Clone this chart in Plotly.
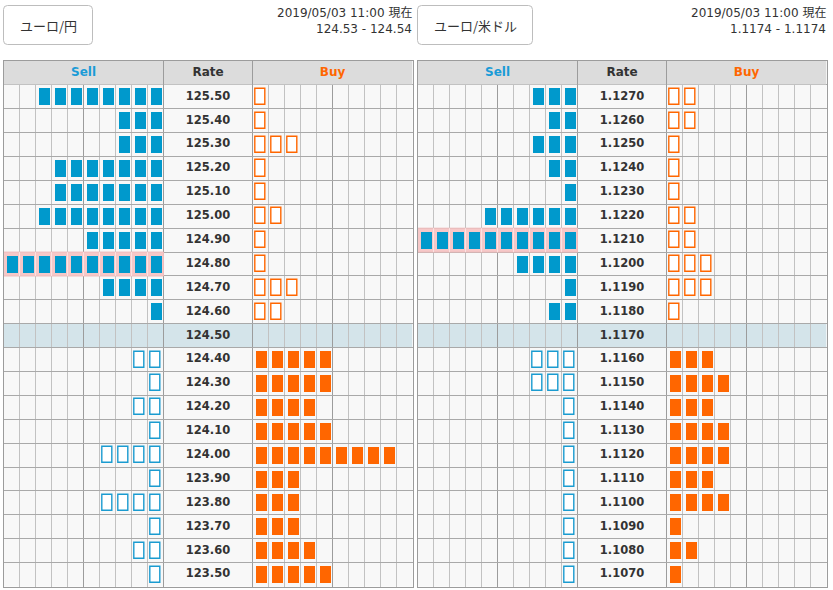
import plotly.graph_objects as go

# ---------------- data ----------------
jpy_title = "ユーロ/円"
jpy_time = "2019/05/03 11:00 現在"
jpy_quote = "124.53 - 124.54"
jpy_rates = ["125.50", "125.40", "125.30", "125.20", "125.10", "125.00", "124.90",
             "124.80", "124.70", "124.60", "124.50", "124.40", "124.30", "124.20",
             "124.10", "124.00", "123.90", "123.80", "123.70", "123.60", "123.50"]
jpy_sell = [8, 3, 3, 7, 7, 8, 5, 10, 4, 1, 0, 2, 1, 2, 1, 4, 1, 4, 1, 2, 1]
jpy_buy = [1, 1, 3, 1, 1, 2, 1, 1, 3, 2, 0, 5, 5, 4, 5, 9, 3, 3, 3, 4, 5]
jpy_current = "124.50"
jpy_highlight = "124.80"

usd_title = "ユーロ/米ドル"
usd_time = "2019/05/03 11:00 現在"
usd_quote = "1.1174 - 1.1174"
usd_rates = ["1.1270", "1.1260", "1.1250", "1.1240", "1.1230", "1.1220", "1.1210",
             "1.1200", "1.1190", "1.1180", "1.1170", "1.1160", "1.1150", "1.1140",
             "1.1130", "1.1120", "1.1110", "1.1100", "1.1090", "1.1080", "1.1070"]
usd_sell = [3, 2, 3, 2, 1, 6, 10, 4, 1, 2, 0, 3, 3, 1, 1, 1, 1, 1, 1, 1, 1]
usd_buy = [2, 2, 1, 1, 1, 2, 2, 3, 3, 1, 0, 3, 4, 3, 4, 4, 3, 4, 1, 2, 1]
usd_current = "1.1170"
usd_highlight = "1.1210"

headers = ["Sell", "Rate", "Buy"]

# ---------------- style ----------------
W, H = 833, 590
NCELL = 10
RATE_W = 89 / 16
BUY0 = NCELL + RATE_W
TOTAL = BUY0 + NCELL
BOX_W, BOX_H = 11 / 16, 17 / 23.86
HOLLOW_W, HOLLOW_H = 10 / 16, 16 / 23.86

BLUE = "#0099cc"
ORANGE = "#ff6600"
SELL_TXT = "#1a9bd7"
DARK = "#333333"
GRID_DARK = "#9c9c9c"
GRID_LIGHT = "#c2c2c2"
GRID_ROW = "#a9a9a9"
FONT = "DejaVu Sans"
JFONT = "Noto Sans CJK JP"

fig = go.Figure()
shapes = []
annotations = []


def px_x(p):
    return p / W


def px_y(p):
    return 1 - p / H


def add_bars(xs, rows, filled, color, xa, ya):
    if not xs:
        return
    bw, bh = (BOX_W, BOX_H) if filled else (HOLLOW_W, HOLLOW_H)
    fig.add_trace(go.Bar(
        x=xs, y=[bh] * len(xs), base=[r - bh / 2 for r in rows], width=bw,
        marker=dict(color=color if filled else "#ffffff",
                    line=dict(width=0 if filled else 1.4, color=color)),
        xaxis=xa, yaxis=ya, hoverinfo="skip", showlegend=False))


def panel(rates, sell, buy, current, highlight, xa, ya):
    cur = rates.index(current) + 1
    hl = rates.index(highlight) + 1
    xr = "x" if xa == "x" else "x2"
    yr = "y" if ya == "y" else "y2"
    shapes.append(dict(type="rect", xref=xr, yref=yr, x0=0, x1=TOTAL, y0=cur - 0.5, y1=cur + 0.5,
                       fillcolor="#d4e4ea", line=dict(width=0), layer="below"))
    shapes.append(dict(type="rect", xref=xr, yref=yr, x0=0, x1=TOTAL, y0=-0.5, y1=0.48,
                       fillcolor="#dcdcdc", line=dict(width=0), layer="between"))
    for xv in (NCELL, BUY0):
        shapes.append(dict(type="line", xref=xr, yref=yr, x0=xv, x1=xv, y0=-0.5, y1=0.5,
                           line=dict(color=GRID_DARK, width=1), layer="between"))
    shapes.append(dict(type="rect", xref=xr, yref=yr, x0=0, x1=NCELL, y0=hl - 0.5, y1=hl + 0.5,
                       fillcolor="#f6c8c8", line=dict(width=1, color="#efbcbc"), layer="between"))
    for k in range(1, NCELL):
        shapes.append(dict(type="line", xref=xr, yref=yr, x0=k, x1=k, y0=hl - 0.5, y1=hl + 0.5,
                           line=dict(color="#fbe2e2", width=1), layer="between"))

    sf_x, sf_r, sh_x, sh_r, bf_x, bf_r, bh_x, bh_r = ([] for _ in range(8))
    for i, (s, b) in enumerate(zip(sell, buy)):
        row = i + 1
        above = row < cur
        sx = [NCELL - k - 0.5 for k in range(s)]
        bx = [BUY0 + k + 0.5 for k in range(b)]
        if above:
            sf_x += sx; sf_r += [row] * s
            bh_x += bx; bh_r += [row] * b
        else:
            sh_x += sx; sh_r += [row] * s
            bf_x += bx; bf_r += [row] * b
    add_bars(sf_x, sf_r, True, BLUE, xa, ya)
    add_bars(sh_x, sh_r, False, "#1a9bd0", xa, ya)
    add_bars(bf_x, bf_r, True, ORANGE, xa, ya)
    add_bars(bh_x, bh_r, False, ORANGE, xa, ya)

    rc = NCELL + RATE_W / 2
    fig.add_trace(go.Scatter(
        x=[rc] * len(rates), y=list(range(1, len(rates) + 1)), text=rates,
        mode="text", textfont=dict(family=FONT, size=11.5, color=DARK, weight="bold"),
        xaxis=xa, yaxis=ya, hoverinfo="skip", showlegend=False))
    fig.add_trace(go.Scatter(
        x=[NCELL / 2, rc, BUY0 + NCELL / 2], y=[0, 0, 0], text=headers,
        mode="text", textfont=dict(family=FONT, size=12, weight="bold",
                                   color=[SELL_TXT, DARK, ORANGE]),
        xaxis=xa, yaxis=ya, hoverinfo="skip", showlegend=False))


def button(x0, x1, y0, y1, label, tx, tright, time_txt, quote):
    r = 4
    p = (f"M {px_x(x0 + r)} {px_y(y0)} L {px_x(x1 - r)} {px_y(y0)} "
         f"Q {px_x(x1)} {px_y(y0)} {px_x(x1)} {px_y(y0 + r)} "
         f"L {px_x(x1)} {px_y(y1 - r)} Q {px_x(x1)} {px_y(y1)} {px_x(x1 - r)} {px_y(y1)} "
         f"L {px_x(x0 + r)} {px_y(y1)} Q {px_x(x0)} {px_y(y1)} {px_x(x0)} {px_y(y1 - r)} "
         f"L {px_x(x0)} {px_y(y0 + r)} Q {px_x(x0)} {px_y(y0)} {px_x(x0 + r)} {px_y(y0)} Z")
    shapes.append(dict(type="path", xref="paper", yref="paper", path=p,
                       fillcolor="#ffffff", line=dict(color="#bdbdbd", width=1)))
    annotations.append(dict(x=px_x(tx), y=px_y((y0 + y1) / 2), xref="paper", yref="paper",
                            text=label, showarrow=False, xanchor="center", yanchor="middle",
                            font=dict(family=JFONT, size=13, color=DARK)))
    annotations.append(dict(x=px_x(tright), y=px_y(13), xref="paper", yref="paper",
                            text=time_txt, showarrow=False, xanchor="right", yanchor="middle",
                            font=dict(family=FONT + ", " + JFONT, size=12, color=DARK)))
    annotations.append(dict(x=px_x(tright), y=px_y(29), xref="paper", yref="paper",
                            text=quote, showarrow=False, xanchor="right", yanchor="middle",
                            font=dict(family=FONT, size=12, color=DARK)))


panel(jpy_rates, jpy_sell, jpy_buy, jpy_current, jpy_highlight, "x", "y")
panel(usd_rates, usd_sell, usd_buy, usd_current, usd_highlight, "x2", "y2")
button(3.5, 92.5, 5.5, 44.5, jpy_title, 48, 414, jpy_time, jpy_quote)
button(417.5, 532.5, 5.5, 44.5, usd_title, 475, 828, usd_time, usd_quote)

major = [5, NCELL, BUY0, BUY0 + 5]
minor = [k for k in range(1, NCELL) if k != 5] + [BUY0 + k for k in range(1, NCELL) if k != 5]
nrows = len(jpy_rates)


def xaxis(dom):
    return dict(range=[0, TOTAL], domain=dom, tickmode="array", tickvals=major,
                showticklabels=False, ticks="", showgrid=True, gridcolor=GRID_DARK, gridwidth=1,
                minor=dict(tickmode="array", tickvals=minor, showgrid=True,
                           gridcolor=GRID_LIGHT, gridwidth=1, ticks=""),
                zeroline=False, showline=True, mirror=True, linecolor=GRID_DARK, linewidth=1,
                fixedrange=True)


def yaxis(anchor):
    return dict(range=[nrows + 0.5, -0.5], domain=[px_y(586.5), px_y(61)], anchor=anchor,
                tickmode="array", tickvals=[k + 0.5 for k in range(nrows)],
                showticklabels=False, ticks="", showgrid=True, gridcolor=GRID_ROW, gridwidth=1,
                zeroline=False, showline=True, mirror=True, linecolor=GRID_DARK, linewidth=1,
                fixedrange=True)


fig.update_layout(
    width=W, height=H, autosize=False,
    margin=dict(l=0, r=0, t=0, b=0),
    paper_bgcolor="#ffffff", plot_bgcolor="#f8f8f8",
    barmode="overlay", bargap=0,
    xaxis=xaxis([px_x(3.5), px_x(412.5)]),
    xaxis2=dict(xaxis([px_x(417.5), px_x(826.5)]), anchor="y2"),
    yaxis=yaxis("x"),
    yaxis2=yaxis("x2"),
    shapes=shapes, annotations=annotations,
    showlegend=False,
)

fig.write_html("out.html", config={"displayModeBar": False},
               post_script="document.body.style.margin='0';document.body.style.overflow='hidden';")
